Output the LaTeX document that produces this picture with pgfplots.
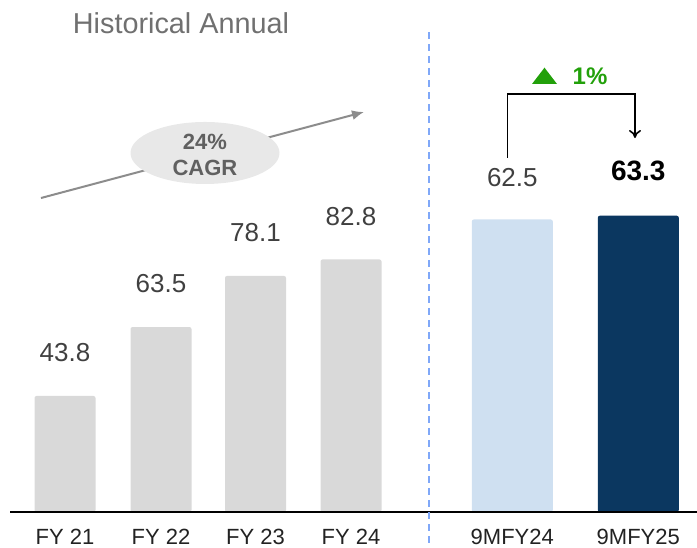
\documentclass[border=0pt]{standalone}
\usepackage{fontspec}
\setmainfont{Liberation Sans}
\usepackage{pgfplots}
\pgfplotsset{compat=1.18}
\usetikzlibrary{arrows.meta}
\definecolor{histbar}{HTML}{D9D9D9}
\definecolor{lightbar}{HTML}{CFE0F1}
\definecolor{darkbar}{HTML}{0B3760}
\definecolor{labelgray}{HTML}{404040}
\definecolor{titlegray}{HTML}{707070}
\definecolor{divblue}{HTML}{80A8F8}
\definecolor{upgreen}{HTML}{22A00A}
\definecolor{cagrfill}{HTML}{E8E8E8}
\definecolor{cagrtext}{HTML}{606060}
\definecolor{cagrline}{HTML}{8C8C8C}
\definecolor{ticktext}{HTML}{222222}
\begin{document}
\begin{tikzpicture}
\pgfplotsset{
  base/.style={
    at={(0,0)}, anchor=south west,
    scale only axis, width=697pt, height=512pt,
    xmin=0, xmax=697,
    axis line style={draw=none},
    tick style={draw=none},
    ytick=\empty,
  },
  vallabel/.style={
    nodes near coords={\pgfmathprintnumber[fixed,fixed zerofill,precision=1,assume math mode=true]{\pgfplotspointmeta}},
  }
}
% Historical annual (own scale)
\begin{axis}[base, ymin=10.66, ymax=156.94, xtick=\empty]
\addplot[ybar, bar width=61pt, bar shift=0pt, fill=histbar, draw=none, rounded corners=2pt,
  vallabel, every node near coord/.append style={font=\fontsize{26}{30}\selectfont, text=labelgray, anchor=center, yshift=43pt}]
  coordinates {(65,43.8) (161,63.5) (255.5,78.1) (351,82.8)};
\end{axis}
% Nine-month comparison (own scale)
\begin{axis}[base, ymin=0, ymax=109.40, clip=false,
  xtick={65,161,255.5,351,512.3,638.3},
  xticklabels={FY 21,FY 22,FY 23,FY 24,9MFY24,9MFY25},
  xticklabel style={font=\fontsize{22}{24}\selectfont, text=ticktext, anchor=center, inner sep=0pt, yshift=-24.5pt}]
\addplot[ybar, bar width=81pt, bar shift=0pt, fill=lightbar, draw=none, rounded corners=2pt,
  vallabel, every node near coord/.append style={font=\fontsize{26}{30}\selectfont, text=labelgray, anchor=center, yshift=42pt}]
  coordinates {(512.3,62.5)};
\addplot[ybar, bar width=81pt, bar shift=0pt, fill=darkbar, draw=none, rounded corners=2pt,
  vallabel, every node near coord/.append style={font=\bfseries\fontsize{28}{32}\selectfont, text=black, anchor=center, yshift=45pt}]
  coordinates {(638.3,63.3)};
% baseline
\draw[line width=2pt, black] (axis cs:10,0) -- (axis cs:697,0);
% divider
\draw[divblue, line width=2pt, dash pattern=on 7pt off 5pt] (axis cs:429,102.56) -- ([yshift=-36pt]axis cs:429,0);
% growth bracket
\draw[line width=1.6pt, -{To[length=8pt,width=12pt]}] (axis cs:507.3,75.64) -- (axis cs:507.3,89.25) -- (axis cs:635,89.25) -- (axis cs:635,79.91);
\fill[upgreen] (axis cs:532,91.45) -- (axis cs:557,91.45) -- (axis cs:544.5,94.94) -- cycle;
\node[text=upgreen, font=\bfseries\fontsize{24}{28}\selectfont, anchor=center] at (axis cs:590,93.16) {1\%};
% title
\node[text=titlegray, font=\fontsize{28.8}{32}\selectfont, anchor=center] at (axis cs:181,104.49) {Historical Annual};
% CAGR arrow and bubble
\draw[cagrline, line width=2pt, -{Latex[length=12pt,width=10pt]}] (axis cs:41,67.09) -- (axis cs:364,85.47);
\fill[cagrfill] (axis cs:205,76.71) ellipse [x radius=74.5pt, y radius=31pt];
\node[text=cagrtext, font=\bfseries\fontsize{22}{26}\selectfont, align=center, anchor=center] at (axis cs:205,76.3) {24\%\\CAGR};
\end{axis}
\pgfresetboundingbox
\useasboundingbox (0,-36pt) rectangle (697pt,512pt);
\end{tikzpicture}
\end{document}
